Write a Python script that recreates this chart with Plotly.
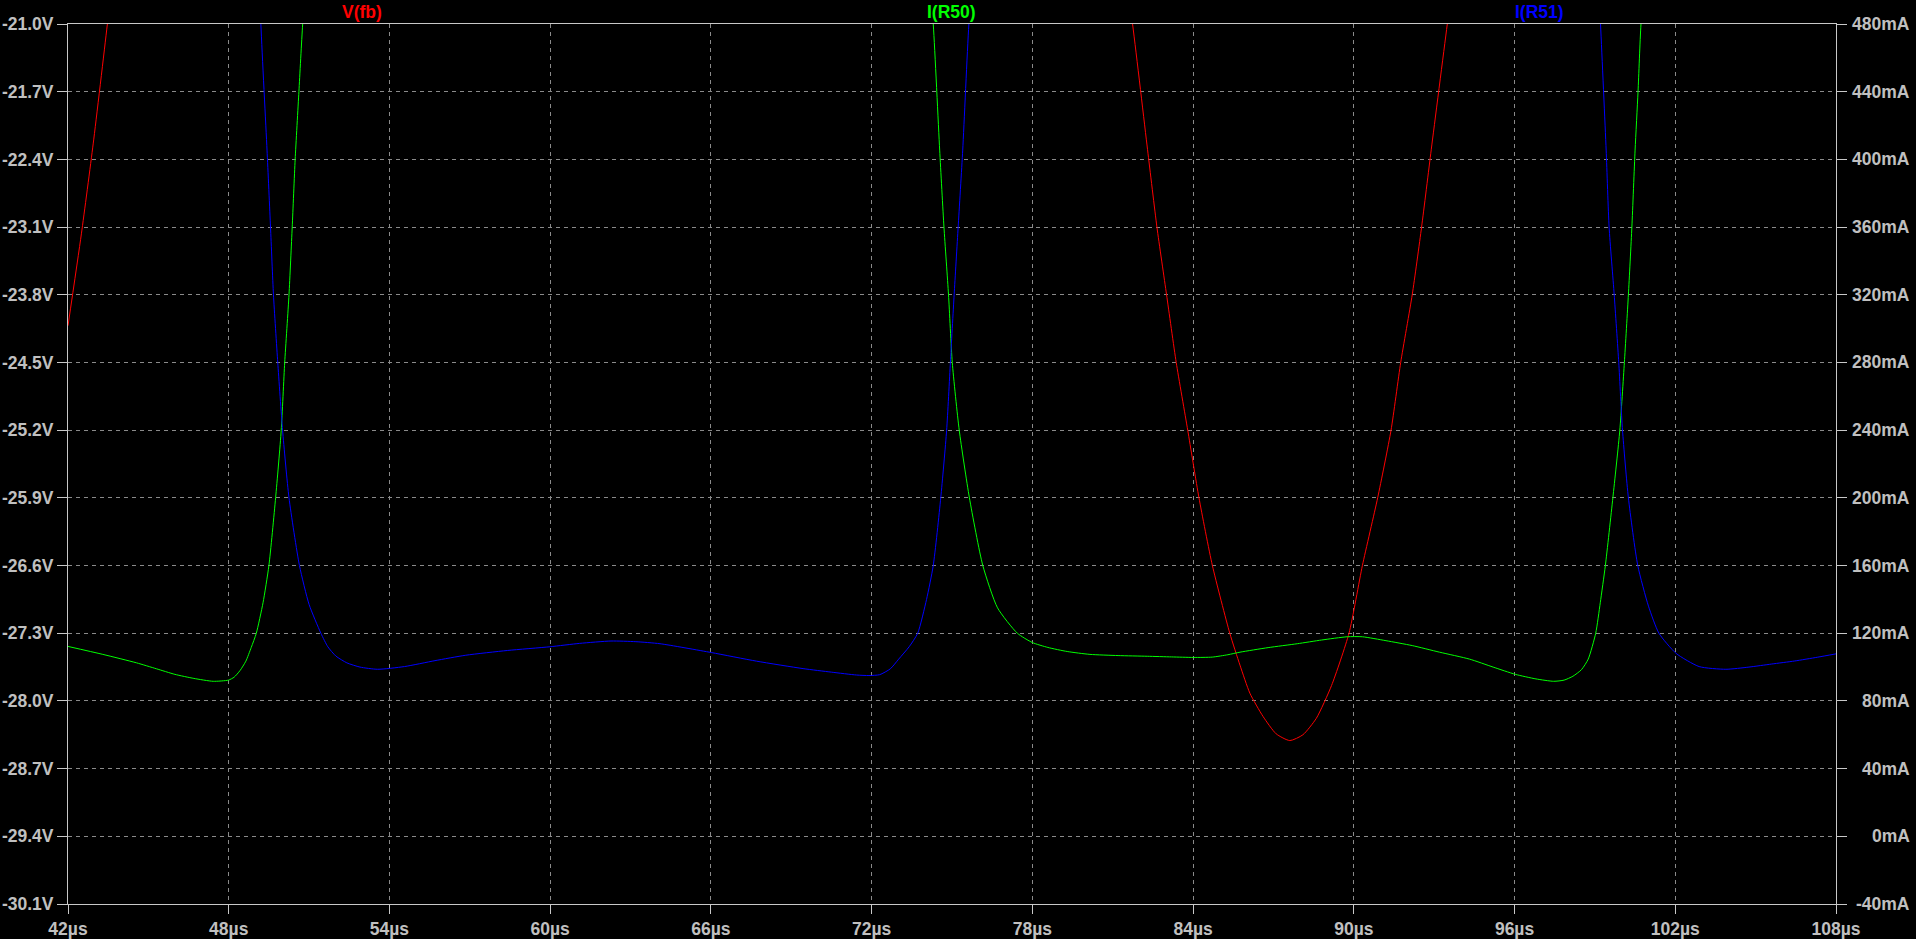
import plotly.graph_objects as go

# ---------------- data ----------------
series_names = ["V(fb)", "I(R50)", "I(R51)"]
series_colors = ["#ff0000", "#00ff00", "#0000ff"]

# V(fb) in volts vs time in µs
t_vfb = [42.0, 42.5, 42.94, 43.47, 44.0, 46.0, 50.0, 60.0, 70.0, 78.0, 80.5,
         81.74, 82.30, 82.65, 83.01, 83.37, 83.80, 84.22, 84.72, 85.37, 85.75,
         86.12, 86.61, 87.10, 87.61, 88.10, 88.60, 89.17, 89.82, 90.32, 90.89,
         91.39, 91.75, 92.18, 92.53, 92.89, 93.49, 94.2, 96.0, 100.0, 108.0]
v_fb = [-24.12, -23.17, -22.24, -21.0, -19.7, -16.0, -12.0, -10.0, -11.0, -15.0, -18.5,
        -21.0, -22.30, -23.10, -23.80, -24.50, -25.20, -25.90, -26.60, -27.30, -27.63,
        -27.92, -28.16, -28.34, -28.41, -28.35, -28.18, -27.84, -27.30, -26.60, -25.90,
        -25.20, -24.50, -23.80, -23.10, -22.30, -21.0, -19.5, -16.0, -12.0, -10.0]

# I(R50) in mA vs time in µs
t_r50 = [42.0, 43.3, 44.56, 45.3, 45.99, 46.7, 47.42, 47.99, 48.2, 48.42, 48.64,
         48.84, 49.03, 49.28, 49.50, 49.75, 49.96, 50.09, 50.25, 50.37, 50.48,
         50.62, 50.76, 51.1, 52.0, 73.0, 74.0, 74.30, 74.54, 74.70, 74.87, 75.01,
         75.27, 75.65, 76.15, 76.7, 77.44, 78.0, 78.58, 79.3, 80.15, 81.2, 82.29,
         83.2, 84.01, 84.72, 85.3, 85.75, 86.8, 87.89, 88.8, 89.75, 90.32, 91.2,
         92.18, 93.2, 94.32, 95.2, 96.03, 96.8, 97.46, 97.85, 98.18, 98.5, 98.75,
         99.03, 99.2, 99.39, 99.67, 99.93, 100.10, 100.25, 100.38, 100.50, 100.61,
         100.72, 101.1, 102.0, 108.0]
i_r50 = [112.2, 107.5, 102.5, 99.0, 95.7, 93.3, 91.6, 92.3, 94.0, 97.9, 103.5,
         111.6, 120.0, 138.0, 160.0, 200.0, 240.0, 280.0, 320.0, 360.0, 400.0,
         440.0, 480.0, 560.0, 620.0, 620.0, 540.0, 480.0, 405.5, 360.0, 320.0, 280.0,
         240.0, 200.0, 160.0, 135.0, 120.0, 114.5, 111.6, 109.2, 107.5, 106.8, 106.4,
         106.0, 105.7, 105.9, 107.3, 108.8, 111.5, 113.8, 116.0, 117.9, 117.9, 115.6,
         112.7, 108.8, 104.7, 100.0, 95.7, 93.0, 91.6, 92.3, 94.6, 98.5, 104.7,
         120.0, 138.0, 160.0, 200.0, 240.0, 280.0, 320.0, 360.0, 405.5, 440.0,
         480.0, 560.0, 620.0, 620.0]

# I(R51) in mA vs time in µs
t_r51 = [42.0, 48.9, 49.20, 49.43, 49.56, 49.67, 49.83, 50.01, 50.25, 50.64, 51.0,
         51.44, 51.70, 52.0, 52.41, 52.9, 53.56, 54.56, 55.7, 56.85, 58.4, 59.99,
         61.1, 62.27, 63.2, 64.10, 66.01, 67.7, 69.44, 70.5, 71.44, 71.9, 72.30,
         72.7, 73.01, 73.4, 73.72, 74.05, 74.30, 74.58, 74.80, 74.94, 75.08, 75.23,
         75.40, 75.63, 76.0, 77.0, 98.8, 99.21, 99.42, 99.53, 99.72, 99.89, 100.03,
         100.25, 100.60, 101.0, 101.39, 102.03, 102.89, 103.89, 104.75, 105.6,
         106.46, 107.3, 108.03]
i_r51 = [620.0, 620.0, 480.0, 405.5, 360.0, 320.0, 280.0, 240.0, 200.0, 160.0, 137.0,
         120.0, 112.0, 106.5, 102.5, 100.0, 98.7, 100.3, 103.8, 107.0, 109.8, 112.0,
         114.0, 115.4, 115.0, 113.8, 108.6, 103.5, 99.1, 97.0, 95.3, 95.0, 95.5,
         99.0, 104.7, 112.0, 120.0, 140.0, 160.0, 200.0, 240.0, 280.0, 320.0, 360.0,
         405.5, 480.0, 560.0, 620.0, 620.0, 480.0, 405.5, 360.0, 320.0, 280.0, 240.0,
         200.0, 160.0, 136.0, 120.0, 108.1, 100.3, 98.7, 100.0, 101.8,
         103.6, 105.8, 107.9]

# axis ticks
x_ticks = [42, 48, 54, 60, 66, 72, 78, 84, 90, 96, 102, 108]
x_tick_labels = [f"{v}µs" for v in x_ticks]
v_ticks = [-21.0, -21.7, -22.4, -23.1, -23.8, -24.5, -25.2, -25.9, -26.6,
           -27.3, -28.0, -28.7, -29.4, -30.1]
v_tick_labels = [f"{v:.1f}V" for v in v_ticks]
i_ticks = [480, 440, 400, 360, 320, 280, 240, 200, 160, 120, 80, 40, 0, -40]
i_tick_labels = [f"{v}mA" for v in i_ticks]

# ---------------- styling ----------------
W, H = 1916, 939
ML, MR, MT, MB = 68, 80, 24, 35
FONT = "Liberation Sans, Arial, sans-serif"
TXT = "#c0c0c0"
AXC = "#c8c8c8"
GRID = "#8a8a8a"
FS = 17.5

fig = go.Figure()
line_common = dict(width=1, shape="spline", smoothing=0.6)
fig.add_trace(go.Scatter(x=t_vfb, y=v_fb, mode="lines", name=series_names[0],
                         line=dict(color=series_colors[0], **line_common), yaxis="y"))
fig.add_trace(go.Scatter(x=t_r50, y=i_r50, mode="lines", name=series_names[1],
                         line=dict(color=series_colors[1], **line_common), yaxis="y2"))
fig.add_trace(go.Scatter(x=t_r51, y=i_r51, mode="lines", name=series_names[2],
                         line=dict(color=series_colors[2], **line_common), yaxis="y2"))

tickfont = dict(family=FONT, size=FS, color=TXT, weight="bold")

fig.update_layout(
    template="none",
    width=W, height=H,
    margin=dict(l=ML, r=MR, t=MT, b=MB, pad=0, autoexpand=False),
    paper_bgcolor="black", plot_bgcolor="black",
    showlegend=False,
    xaxis=dict(range=[42, 108], tickvals=x_ticks, ticktext=x_tick_labels,
               ticks="outside", ticklen=9, tickcolor=AXC, tickwidth=1,
               showline=True, linecolor=AXC, linewidth=1, mirror=True,
               showgrid=True, gridcolor=GRID, griddash="4px,4px", gridwidth=1,
               zeroline=False, tickfont=tickfont, fixedrange=True, automargin=False),
    yaxis=dict(range=[-30.1, -21.0], tickvals=v_ticks, ticktext=v_tick_labels,
               ticks="outside", ticklen=10, tickcolor=AXC, tickwidth=1,
               showline=True, linecolor=AXC, linewidth=1, mirror=True,
               showgrid=True, gridcolor=GRID, griddash="4px,4px", gridwidth=1,
               zeroline=False, tickfont=tickfont, fixedrange=True, automargin=False),
    yaxis2=dict(range=[-40, 480], tickvals=i_ticks, showticklabels=False,
                overlaying="y", side="right",
                ticks="outside", ticklen=10, tickcolor=AXC, tickwidth=1,
                showline=True, linecolor=AXC, linewidth=1,
                showgrid=False, zeroline=False, fixedrange=True, automargin=False),
)

# right-aligned current tick labels (LTspice style)
plot_w = W - ML - MR
x_right = (1912 - ML) / plot_w
for v, lab in zip(i_ticks, i_tick_labels):
    fig.add_annotation(x=x_right, xref="paper", y=v, yref="y2", text=lab,
                       showarrow=False, xanchor="right", yanchor="middle",
                       font=tickfont)

# trace names above the plot
label_px = [362, 951, 1539]
for name, col, px in zip(series_names, series_colors, label_px):
    fig.add_annotation(x=(px - ML) / plot_w, xref="paper", y=1 + 12 / (H - MT - MB),
                       yref="paper", text=name, showarrow=False,
                       xanchor="center", yanchor="middle",
                       font=dict(family=FONT, size=FS, color=col, weight="bold"))

fig.write_html(
    "out.html",
    config={"displayModeBar": False},
    post_script="document.body.style.margin='0';document.body.style.overflow='hidden';",
)
